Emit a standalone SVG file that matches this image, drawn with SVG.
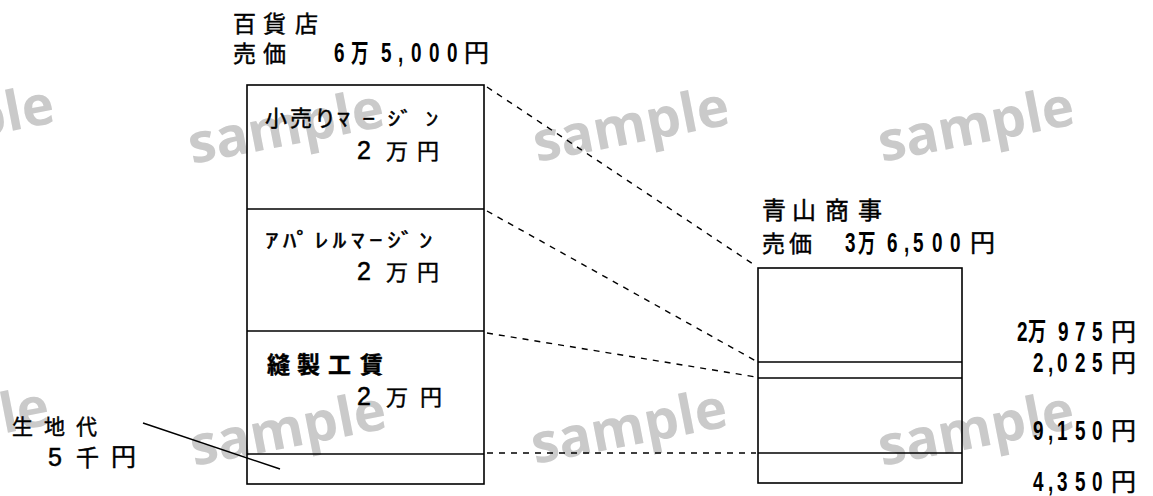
<svg xmlns="http://www.w3.org/2000/svg" width="1153" height="496" viewBox="0 0 1153 496">
<style>
.wm{font-family:"Open Sans","DejaVu Sans",sans-serif;font-weight:700;font-size:55px;fill:#cacaca}
.k{font-family:"Noto Sans CJK JP",sans-serif;fill:#000;stroke:#000;stroke-width:0.45}
.n{font-family:"Liberation Sans","Noto Sans CJK JP",sans-serif;font-weight:700;font-size:27px;fill:#000}
.d{font-family:"Liberation Sans",sans-serif;fill:#000;stroke:#000;stroke-width:0.5}
.box{fill:none;stroke:#000;stroke-width:1.6}
.div{stroke:#000;stroke-width:1.6}
.dash{fill:none;stroke:#000;stroke-width:1.4;stroke-dasharray:6 6}
.lead{stroke:#000;stroke-width:1.4}
</style>
<rect width="1153" height="496" fill="#fff"/>
<g id="watermarks">
<text class="wm" x="-138" y="160" transform="rotate(-11 -138 160)">sample</text>
<text class="wm" x="192" y="164" transform="rotate(-11 192 164)">sample</text>
<text class="wm" x="537" y="162" transform="rotate(-11 537 162)">sample</text>
<text class="wm" x="882" y="162" transform="rotate(-11 882 162)">sample</text>
<text class="wm" x="-143" y="462" transform="rotate(-11 -143 462)">sample</text>
<text class="wm" x="194" y="466" transform="rotate(-11 194 466)">sample</text>
<text class="wm" x="535" y="464" transform="rotate(-11 535 464)">sample</text>
<text class="wm" x="882" y="466" transform="rotate(-11 882 466)">sample</text>
</g>
<g id="dept-store">
<text class="k" y="32" font-size="23"><tspan x="233">百</tspan><tspan x="263">貨</tspan><tspan x="295">店</tspan></text>
<text class="k" y="62" font-size="23"><tspan x="233">売</tspan><tspan x="263">価</tspan></text>
<text class="n" y="62" transform="scale(0.7 1)"><tspan x="477.1">6</tspan><tspan x="501.4" font-size="25">万</tspan><tspan x="544.3">5</tspan><tspan x="568.6">,</tspan><tspan x="587.1">0</tspan><tspan x="612.9">0</tspan><tspan x="638.6">0</tspan></text>
<text class="k" x="464" y="62" font-size="25">円</text>
<rect class="box" x="247" y="85" width="237" height="399"/>
<g id="retail-margin">
<text class="k" y="126" font-size="22"><tspan x="265">小</tspan><tspan x="290">売</tspan><tspan x="314">り</tspan></text>
<text class="k" x="0" y="0" font-size="19" transform="translate(337 126) scale(1.35 1)" textLength="75" lengthAdjust="spacing">ﾏｰｼﾞﾝ</text>
<text y="159"><tspan class="d" font-size="25" x="357">2</tspan><tspan class="k" font-size="22" x="386">万</tspan><tspan class="k" font-size="22" x="417">円</tspan></text>
</g>
<g id="apparel-margin">
<line class="div" x1="247" y1="209" x2="484" y2="209"/>
<text class="k" x="0" y="0" font-size="20" transform="translate(265 248) scale(1.35 1)" textLength="124" lengthAdjust="spacing">ｱﾊﾟﾚﾙﾏｰｼﾞﾝ</text>
<text y="280"><tspan class="d" font-size="25" x="357">2</tspan><tspan class="k" font-size="22" x="386">万</tspan><tspan class="k" font-size="22" x="417">円</tspan></text>
</g>
<g id="sewing">
<line class="div" x1="247" y1="331" x2="484" y2="331"/>
<text class="k" y="373" font-size="23" font-weight="bold"><tspan x="267">縫</tspan><tspan x="297">製</tspan><tspan x="328">工</tspan><tspan x="360">賃</tspan></text>
<text y="405"><tspan class="d" font-size="25" x="357">2</tspan><tspan class="k" font-size="22" x="386">万</tspan><tspan class="k" font-size="22" x="420">円</tspan></text>
</g>
<g id="fabric">
<line class="div" x1="247" y1="454" x2="484" y2="454"/>
</g>
</g>
<g id="fabric-label">
<text class="k" y="434" font-size="21"><tspan x="12">生</tspan><tspan x="44">地</tspan><tspan x="76">代</tspan></text>
<text y="466"><tspan class="d" font-size="25" x="48">5</tspan><tspan class="k" font-size="23" x="76">千</tspan><tspan class="k" font-size="25" x="111">円</tspan></text>
</g>
<g id="aoyama">
<text class="k" y="219" font-size="24"><tspan x="762">青</tspan><tspan x="792">山</tspan><tspan x="825">商</tspan><tspan x="858">事</tspan></text>
<text class="k" y="252" font-size="23"><tspan x="762">売</tspan><tspan x="789">価</tspan></text>
<text class="n" y="252" transform="scale(0.7 1)"><tspan x="1207.1">3</tspan><tspan x="1225.7" font-size="25">万</tspan><tspan x="1267.1">6</tspan><tspan x="1291.4">,</tspan><tspan x="1304.3">5</tspan><tspan x="1331.4">0</tspan><tspan x="1357.1">0</tspan></text>
<text class="k" x="970" y="252" font-size="25">円</text>
<rect class="box" x="758" y="268" width="204" height="215"/>
<line class="div" x1="758" y1="362" x2="962" y2="362"/>
<line class="div" x1="758" y1="378" x2="962" y2="378"/>
<line class="div" x1="758" y1="453" x2="962" y2="453"/>
</g>
<g id="right-labels">
<text class="n" y="341" transform="scale(0.7 1)"><tspan x="1452.9">2</tspan><tspan x="1468.6" font-size="26">万</tspan><tspan x="1511.4">9</tspan><tspan x="1535.7">7</tspan><tspan x="1560">5</tspan></text>
<text class="k" x="1111" y="341" font-size="25">円</text>
<text class="n" y="372" transform="scale(0.7 1)"><tspan x="1475.7">2</tspan><tspan x="1497.1">,</tspan><tspan x="1510">0</tspan><tspan x="1535.7">2</tspan><tspan x="1560">5</tspan></text>
<text class="k" x="1111" y="372" font-size="25">円</text>
<text class="n" y="440" transform="scale(0.7 1)"><tspan x="1475.7">9</tspan><tspan x="1497.1">,</tspan><tspan x="1510">1</tspan><tspan x="1535.7">5</tspan><tspan x="1560">0</tspan></text>
<text class="k" x="1111" y="440" font-size="25">円</text>
<text class="n" y="491" transform="scale(0.7 1)"><tspan x="1475.7">4</tspan><tspan x="1497.1">,</tspan><tspan x="1510">3</tspan><tspan x="1535.7">5</tspan><tspan x="1560">0</tspan></text>
<text class="k" x="1111" y="491" font-size="25">円</text>
</g>
<g id="connectors">
<line class="dash" x1="487" y1="87" x2="756" y2="266"/>
<line class="dash" x1="487" y1="211" x2="756" y2="361"/>
<line class="dash" x1="487" y1="333" x2="756" y2="377"/>
<line class="dash" x1="487" y1="453" x2="756" y2="453"/>
<line class="lead" x1="143" y1="423" x2="280" y2="469"/>
</g>
</svg>
